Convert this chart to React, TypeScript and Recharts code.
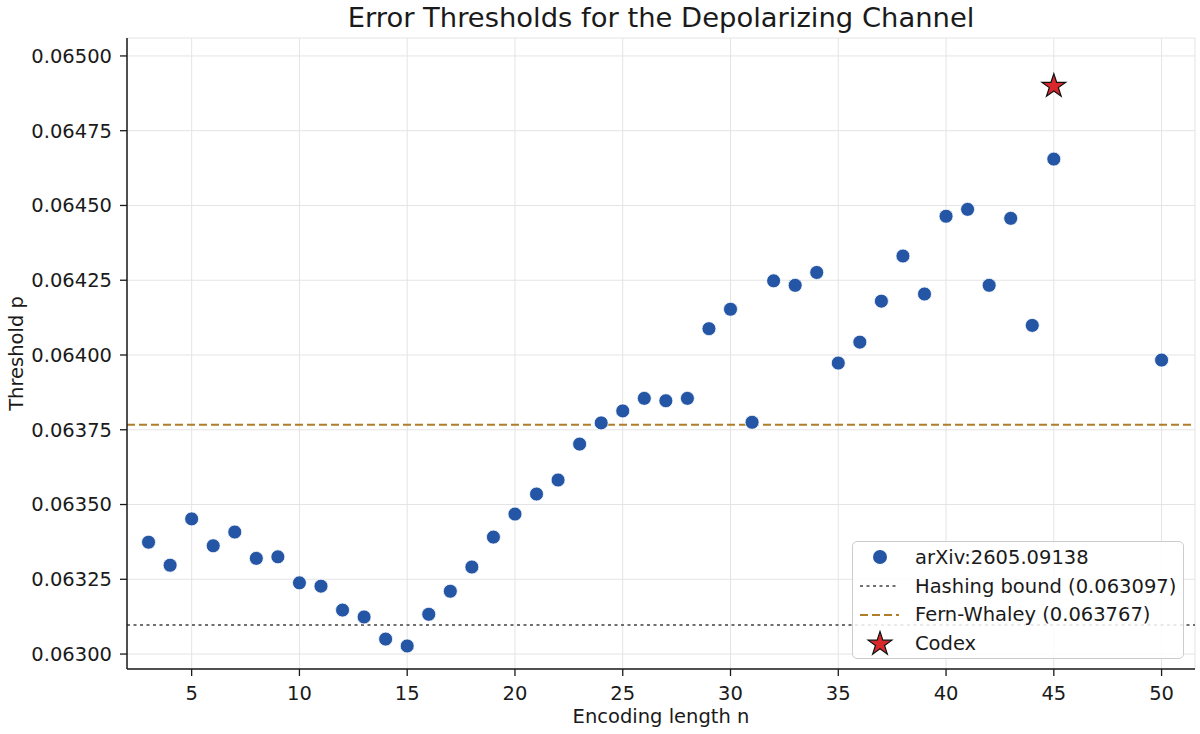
import React from 'react';
import {
  CartesianGrid,
  Legend,
  ReferenceLine,
  Scatter,
  ScatterChart,
  XAxis,
  YAxis,
} from 'recharts';

// values
const encodingLengths = [
  3, 4, 5, 6, 7, 8, 9, 10, 11, 12, 13, 14, 15, 16, 17, 18, 19, 20, 21, 22, 23,
  24, 25, 26, 27, 28, 29, 30, 31, 32, 33, 34, 35, 36, 37, 38, 39, 40, 41, 42,
  43, 44, 45, 50,
];
const thresholds = [
  0.063374, 0.063297, 0.063452, 0.063362, 0.063408, 0.06332, 0.063325,
  0.063238, 0.063227, 0.063147, 0.063124, 0.06305, 0.063027, 0.063133,
  0.06321, 0.063291, 0.063391, 0.063468, 0.063535, 0.063582, 0.063702,
  0.063773, 0.063813, 0.063855, 0.063847, 0.063855, 0.064088, 0.064153,
  0.063775, 0.064248, 0.064233, 0.064276, 0.063973, 0.064043, 0.06418,
  0.064331, 0.064204, 0.064464, 0.064487, 0.064233, 0.064457, 0.064099,
  0.064655, 0.063983,
];
const codexLengths = [45];
const codexThresholds = [0.064899];
const hashingBound = 0.063097;
const fernWhaley = 0.063767;
const xTicks = [5, 10, 15, 20, 25, 30, 35, 40, 45, 50];
const yTicks = [0.063, 0.06325, 0.0635, 0.06375, 0.064, 0.06425, 0.0645, 0.06475, 0.065];
const legendNames = [
  'arXiv:2605.09138',
  'Hashing bound (0.063097)',
  'Fern-Whaley (0.063767)',
  'Codex',
];

const arxivData = encodingLengths.map((n, i) => ({ n, p: thresholds[i] }));
const codexData = codexLengths.map((n, i) => ({ n, p: codexThresholds[i] }));

const FONT = '"DejaVu Sans", sans-serif';
const INK = '#1a1a1a';
const BLUE = '#2456a5';
const RED = '#d8282b';
const GOLD = '#b07d2a';
const GRAY = '#707070';
const FS = 19.5;

const starPoints = (cx: number, cy: number, R: number) => {
  const r = R * 0.382;
  const pts: string[] = [];
  for (let k = 0; k < 10; k++) {
    const a = (k * Math.PI) / 5;
    const rad = k % 2 === 0 ? R : r;
    pts.push(`${cx + rad * Math.sin(a)},${cy - rad * Math.cos(a)}`);
  }
  return pts.join(' ');
};

const Dot = (props: any) => (
  <circle cx={props.cx} cy={props.cy} r={7} fill={BLUE} stroke="#fff" strokeWidth={0.8} />
);

const Star = (props: any) => (
  <polygon
    points={starPoints(props.cx, props.cy, 12.5)}
    fill={RED}
    stroke="#111"
    strokeWidth={1.2}
    strokeLinejoin="miter"
  />
);

const LegendBox = () => {
  const row = (i: number, mark: React.ReactNode) => (
    <div key={i} style={{ display: 'flex', alignItems: 'center', height: 28.8 }}>
      <svg width={54} height={28} style={{ flex: 'none' }}>
        {mark}
      </svg>
      <span style={{ marginLeft: 8, whiteSpace: 'nowrap' }}>{legendNames[i]}</span>
    </div>
  );
  return (
    <div
      style={{
        boxSizing: 'border-box',
        width: 332,
        height: 118,
        padding: '1px 0 0 0',
        border: '1px solid #cccccc',
        borderRadius: 5,
        background: 'rgba(255,255,255,0.85)',
        fontFamily: FONT,
        fontSize: FS,
        color: INK,
      }}
    >
      {row(0, <circle cx={27} cy={14} r={7} fill={BLUE} />)}
      {row(1, <line x1={7} x2={46} y1={14} y2={14} stroke={GRAY} strokeWidth={2} strokeDasharray="3 3.5" />)}
      {row(2, <line x1={7} x2={46} y1={14} y2={14} stroke={GOLD} strokeWidth={2} strokeDasharray="8 4" />)}
      {row(3, <polygon points={starPoints(27, 14, 12.5)} fill={RED} stroke="#111" strokeWidth={1.2} />)}
    </div>
  );
};

const YLabel = (props: any) => {
  const vb = props.viewBox;
  const cy = vb.y + vb.height / 2;
  return (
    <text x={16} y={cy} transform={`rotate(-90 16 ${cy})`} textAnchor="middle" dominantBaseline="central" fontFamily={FONT} fontSize={FS} fill={INK}>
      Threshold p
    </text>
  );
};

const XLabel = (props: any) => {
  const vb = props.viewBox;
  return (
    <text x={vb.x + vb.width / 2} y={723} textAnchor="middle" fontFamily={FONT} fontSize={FS} fill={INK}>
      Encoding length n
    </text>
  );
};

export default function App() {
  return (
    <div style={{ position: 'absolute', left: 0, top: 0, width: 1200, height: 734, background: '#fff' }}>
      <div
        style={{
          position: 'absolute',
          left: 127,
          width: 1068,
          top: 4,
          textAlign: 'center',
          fontFamily: FONT,
          fontSize: 27.4,
          lineHeight: '27px',
          color: INK,
          whiteSpace: 'nowrap',
        }}
      >
        Error Thresholds for the Depolarizing Channel
      </div>
      <div style={{ position: 'absolute', left: 0, top: 0 }}>
        <ScatterChart width={1200} height={734} margin={{ top: 38, right: 5, bottom: 0, left: 0 }}>
          <CartesianGrid stroke="#e4e4e4" strokeWidth={1} vertical horizontal />
          <XAxis
            type="number"
            dataKey="n"
            domain={[2, 51.55]}
            ticks={xTicks}
            allowDataOverflow
            height={65}
            tickSize={7}
            tickMargin={10}
            tick={{ fill: INK, fontSize: FS, fontFamily: FONT }}
            tickLine={{ stroke: INK, strokeWidth: 1.3 }}
            axisLine={{ stroke: INK, strokeWidth: 1.5 }}
            label={<XLabel />}
          />
          <YAxis
            type="number"
            dataKey="p"
            domain={[0.06295, 0.06506]}
            ticks={yTicks}
            allowDataOverflow
            width={127}
            tickSize={7}
            tickMargin={8}
            tickFormatter={(v: number) => v.toFixed(5)}
            tick={{ fill: INK, fontSize: FS, fontFamily: FONT }}
            tickLine={{ stroke: INK, strokeWidth: 1.3 }}
            axisLine={{ stroke: INK, strokeWidth: 1.5 }}
            label={<YLabel />}
          />
          <ReferenceLine y={hashingBound} stroke={GRAY} strokeWidth={2} strokeDasharray="3 3.5" />
          <ReferenceLine y={fernWhaley} stroke={GOLD} strokeWidth={2} strokeDasharray="8 4" />
          <Scatter name={legendNames[0]} data={arxivData} shape={Dot} isAnimationActive={false} />
          <Scatter name={legendNames[3]} data={codexData} shape={Star} isAnimationActive={false} />
          <Legend
            content={<LegendBox />}
            layout="vertical"
            align="center"
            verticalAlign="middle"
            wrapperStyle={{ left: 852, top: 541, width: 332, right: 'auto', bottom: 'auto' }}
          />
        </ScatterChart>
      </div>
    </div>
  );
}
